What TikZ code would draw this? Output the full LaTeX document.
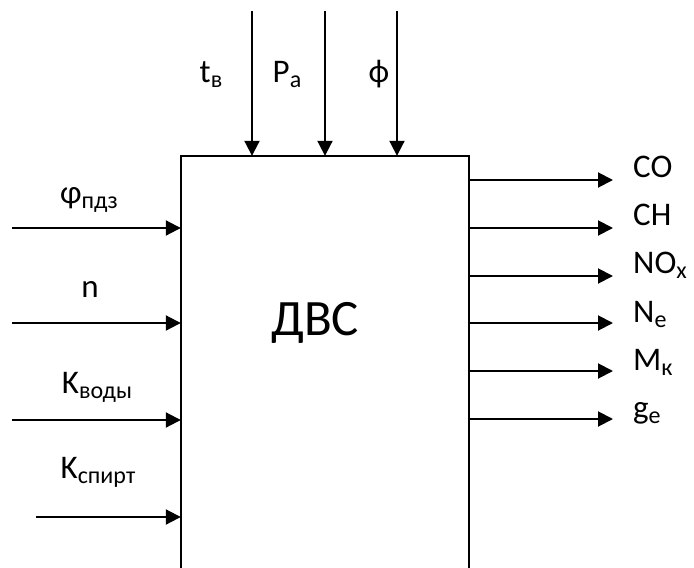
\documentclass[tikz,border=0pt]{standalone}
\usepackage{fontspec}
\setmainfont{Carlito}
\usetikzlibrary{arrows.meta}
\newcommand{\low}[1]{\raisebox{-5pt}{\fontsize{24}{24}\selectfont #1}}
\tikzset{
  arr/.style={line width=2pt,-{Triangle[length=15pt,width=15pt]}},
  lbl/.style={font=\fontsize{33}{33}\selectfont,anchor=base,inner sep=0pt},
  outlbl/.style={lbl,anchor=base west}
}
\begin{document}
\begin{tikzpicture}[x=1pt,y=-1pt]
\useasboundingbox (0,0) rectangle (694,568);

% engine block, open at the bottom
\node[minimum width=288pt,minimum height=412pt,inner sep=0pt] (dvs) at (325,362) {};
\draw[line width=2pt] (dvs.south west) -- (dvs.north west) -- (dvs.north east) -- (dvs.south east);
\node[lbl,font=\fontsize{51}{51}\selectfont] (name) at (315,335) {ДВС};

% top inputs
\coordinate (tb) at (252,11);
\coordinate (pa) at (325,11);
\coordinate (fi) at (397,11);
\draw[arr] (tb) -- (tb |- dvs.north);
\draw[arr] (pa) -- (pa |- dvs.north);
\draw[arr] (fi) -- (fi |- dvs.north);
\node[lbl] (ltb) at (211,82) {t\low{в}};
\node[lbl] (lpa) at (287,82) {P\low{a}};
\node[lbl] (lfi) at (379,82) {ф};

% left inputs
\coordinate (phi) at (12,228);
\coordinate (n) at (12,323);
\coordinate (kv) at (12,420);
\coordinate (ks) at (36,517);
\draw[arr] (phi) -- (phi -| dvs.west);
\draw[arr] (n) -- (n -| dvs.west);
\draw[arr] (kv) -- (kv -| dvs.west);
\draw[arr] (ks) -- (ks -| dvs.west);
\node[lbl] (lphi) at (89,203) {φ\low{пдз}};
\node[lbl] (ln) at (90,297) {n};
\node[lbl] (lkv) at (97,393) {K\low{воды}};
\node[lbl] (lks) at (98,478) {K\low{спирт}};

% outputs
\coordinate (co) at (613,180);
\coordinate (ch) at (613,228);
\coordinate (nox) at (613,276);
\coordinate (ne) at (613,323);
\coordinate (mk) at (613,371);
\coordinate (ge) at (613,419);
\foreach \o in {co,ch,nox,ne,mk,ge}
  \draw[arr] (dvs.east |- \o) -- (\o);
\node[outlbl] (lco) at (633,177) {CO};
\node[outlbl] (lch) at (633,225) {CH};
\node[outlbl] (lnox) at (633,273) {NO\low{x}};
\node[outlbl] (lne) at (633,322) {N\low{e}};
\node[outlbl] (lmk) at (633,370) {M\low{к}};
\node[outlbl] (lge) at (633,418) {g\low{e}};
\end{tikzpicture}
\end{document}
